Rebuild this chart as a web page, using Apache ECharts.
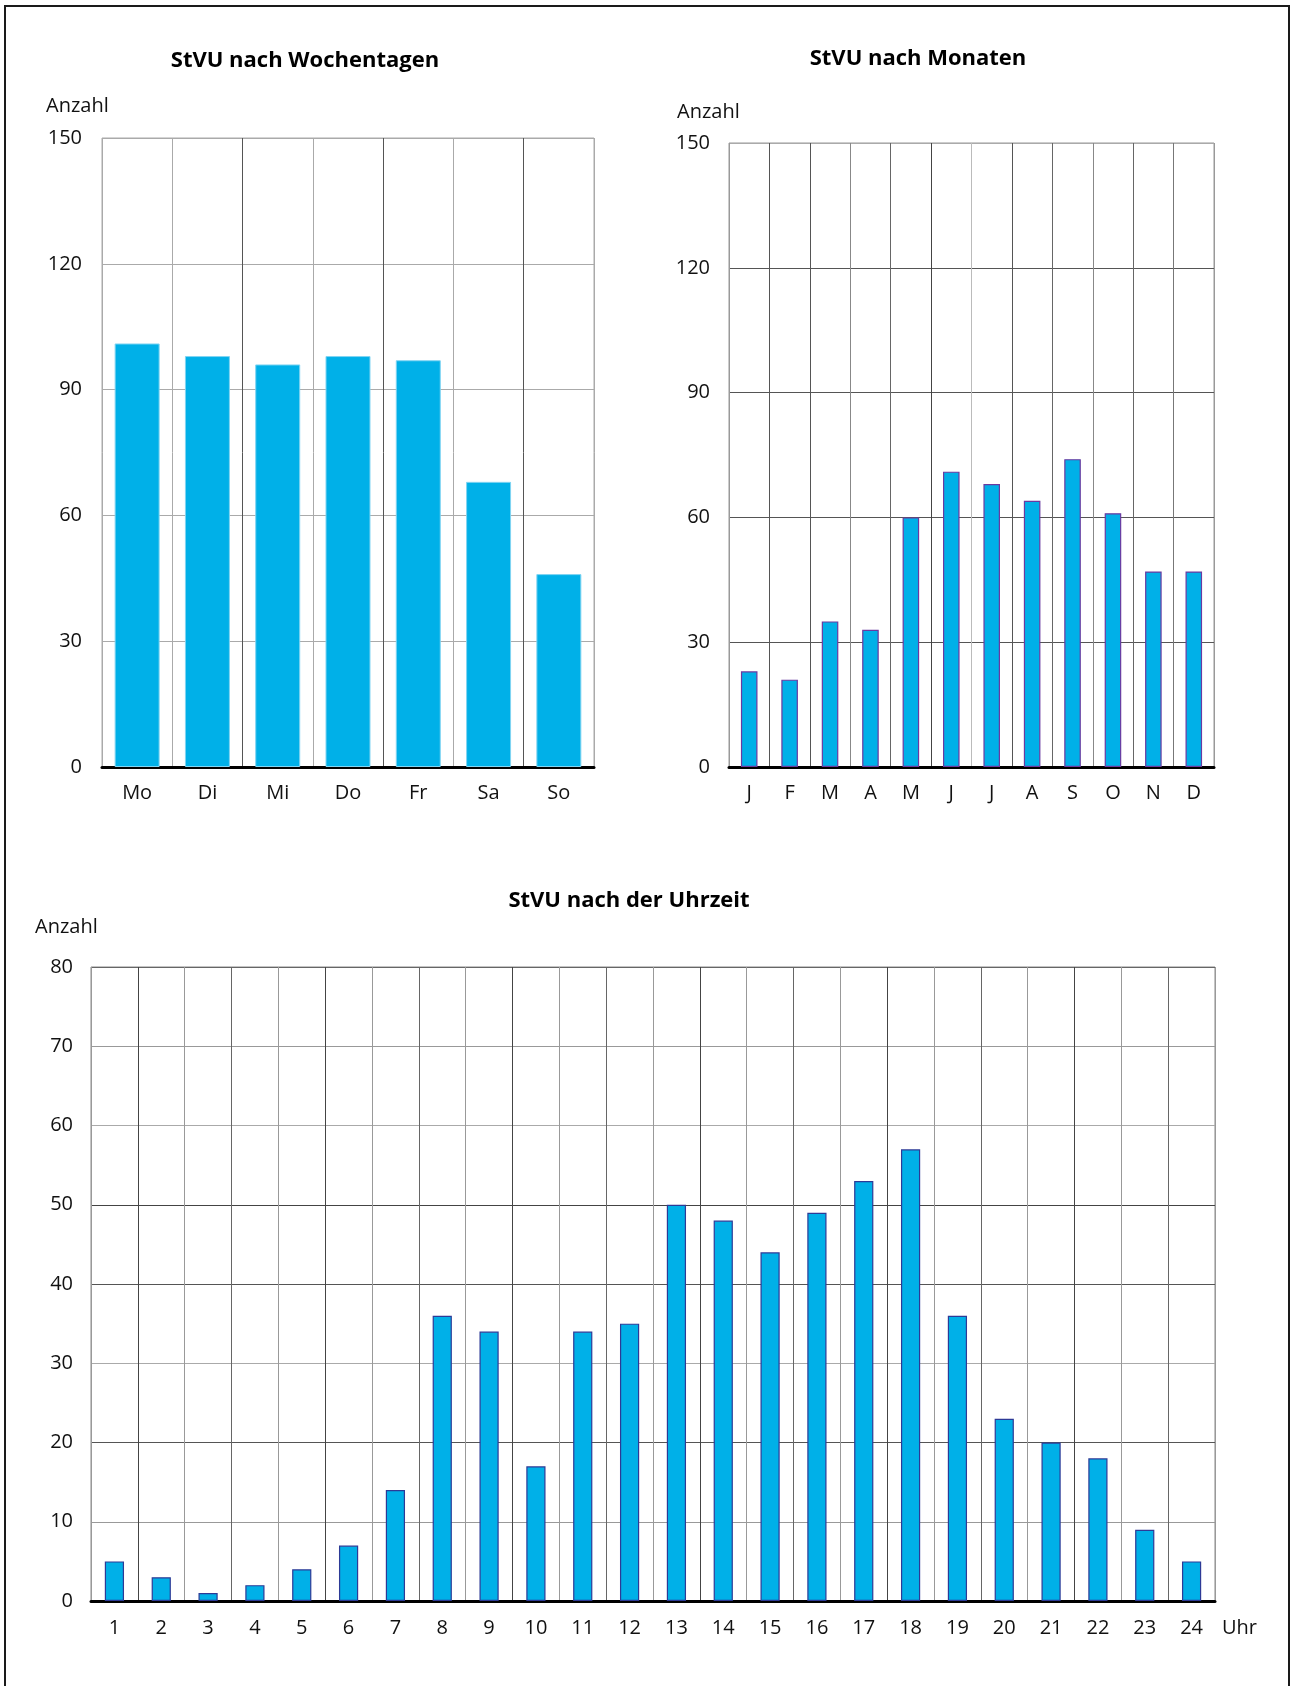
<!DOCTYPE html>
<html>
<head>
<meta charset="utf-8">
<script src="https://cdn.jsdelivr.net/npm/echarts@6/dist/echarts.min.js"></script>
<style>
html,body{margin:0;padding:0;background:#fff;}
#c{width:1293px;height:1686px;}
</style>
</head>
<body>
<div id="c"></div>
<script>
// ---- Data ----
const weekdayCats = ['Mo', 'Di', 'Mi', 'Do', 'Fr', 'Sa', 'So'];
const weekdayValues = [101, 98, 96, 98, 97, 68, 46];

const monthCats = ['J', 'F', 'M', 'A', 'M', 'J', 'J', 'A', 'S', 'O', 'N', 'D'];
const monthValues = [23, 21, 35, 33, 60, 71, 68, 64, 74, 61, 47, 47];

const hourCats = ['1','2','3','4','5','6','7','8','9','10','11','12','13','14','15','16','17','18','19','20','21','22','23','24'];
const hourValues = [5, 3, 1, 2, 4, 7, 14, 36, 34, 17, 34, 35, 50, 48, 44, 49, 53, 57, 36, 23, 20, 18, 9, 5];

const titles = ['StVU nach Wochentagen', 'StVU nach Monaten', 'StVU nach der Uhrzeit'];
const yName = 'Anzahl';
const xNameHours = 'Uhr';
const topAxisMax = 150, topAxisInterval = 30;
const hourAxisMax = 80, hourAxisInterval = 10;

// ---- Styles ----
const FONT = '"Open Sans", "Noto Sans", sans-serif';
const BAR = '#00b0e8';

function catAxis(idx, data, splitColors, margin) {
  return {
    type: 'category', gridIndex: idx, data: data,
    axisLine: { show: true, lineStyle: { color: '#000', width: 3 } },
    axisTick: { show: false },
    axisLabel: { color: '#111', fontFamily: FONT, fontSize: 20, margin: margin, interval: 0 },
    splitLine: { show: true, interval: 0, lineStyle: { color: splitColors, width: 1 } }
  };
}
function valAxis(idx, max, interval, gridColors, margin) {
  return {
    type: 'value', gridIndex: idx, min: 0, max: max, interval: interval,
    axisLine: { show: false }, axisTick: { show: false },
    axisLabel: { color: '#111', fontFamily: FONT, fontSize: 20, margin: margin },
    splitLine: { show: true, lineStyle: { color: gridColors, width: 1 } }
  };
}

const chart = echarts.init(document.getElementById('c'), null, { renderer: 'canvas' });
chart.setOption({
  animation: false,
  backgroundColor: '#fff',
  grid: [
    { left: 102, top: 138, width: 492, height: 629, show: true, borderColor: '#aaa', borderWidth: 1 },
    { left: 729, top: 143, width: 485, height: 624, show: true, borderColor: '#999', borderWidth: 1 },
    { left: 91, top: 967, width: 1124, height: 634, show: true, borderColor: '#888', borderWidth: 1 }
  ],
  xAxis: [
    catAxis(0, weekdayCats, ['#aaa', '#aaa', '#555', '#aaa', '#555', '#aaa', '#555', '#aaa'], 16),
    catAxis(1, monthCats, ['#999', '#555', '#555', '#888', '#666', '#444', '#bbb', '#555', '#666', '#888', '#666', '#777', '#999'], 16),
    catAxis(2, hourCats, ['#999', '#444', '#999', '#666'], 17)
  ],
  yAxis: [
    valAxis(0, topAxisMax, topAxisInterval, ['#aaa'], 20),
    valAxis(1, topAxisMax, topAxisInterval, ['#555', '#555', '#555', '#555', '#555', '#aaa'], 19),
    valAxis(2, hourAxisMax, hourAxisInterval, ['#777', '#999', '#555', '#aaa', '#555', '#444', '#aaa', '#999', '#666'], 18)
  ],
  series: [
    { type: 'bar', xAxisIndex: 0, yAxisIndex: 0, data: weekdayValues, barWidth: '64%',
      itemStyle: { color: BAR, borderColor: '#80d4f2', borderWidth: 1 } },
    { type: 'bar', xAxisIndex: 1, yAxisIndex: 1, data: monthValues, barWidth: '41%',
      itemStyle: { color: BAR, borderColor: '#6a3aa0', borderWidth: 1.2 } },
    { type: 'bar', xAxisIndex: 2, yAxisIndex: 2, data: hourValues, barWidth: '41%',
      itemStyle: { color: BAR, borderColor: '#2d3a96', borderWidth: 1.2 } }
  ],
  graphic: [
    { type: 'rect', shape: { x: 5, y: 6, width: 1284, height: 1700 },
      style: { fill: 'none', stroke: '#1a1a1a', lineWidth: 2 }, silent: true },
    { type: 'text', style: { text: titles[0], x: 305, y: 61, textAlign: 'center', textVerticalAlign: 'middle',
      font: 'bold 22px ' + FONT, fill: '#000' } },
    { type: 'text', style: { text: titles[1], x: 918, y: 59, textAlign: 'center', textVerticalAlign: 'middle',
      font: 'bold 22px ' + FONT, fill: '#000' } },
    { type: 'text', style: { text: titles[2], x: 629, y: 901, textAlign: 'center', textVerticalAlign: 'middle',
      font: 'bold 22px ' + FONT, fill: '#000' } },
    { type: 'text', style: { text: yName, x: 46, y: 106, textAlign: 'left', textVerticalAlign: 'middle',
      font: '20px ' + FONT, fill: '#111' } },
    { type: 'text', style: { text: yName, x: 677, y: 112, textAlign: 'left', textVerticalAlign: 'middle',
      font: '20px ' + FONT, fill: '#111' } },
    { type: 'text', style: { text: yName, x: 35, y: 927, textAlign: 'left', textVerticalAlign: 'middle',
      font: '20px ' + FONT, fill: '#111' } },
    { type: 'text', style: { text: xNameHours, x: 1222, y: 1628, textAlign: 'left', textVerticalAlign: 'middle',
      font: '20px ' + FONT, fill: '#111' } }
  ]
});
</script>
</body>
</html>
